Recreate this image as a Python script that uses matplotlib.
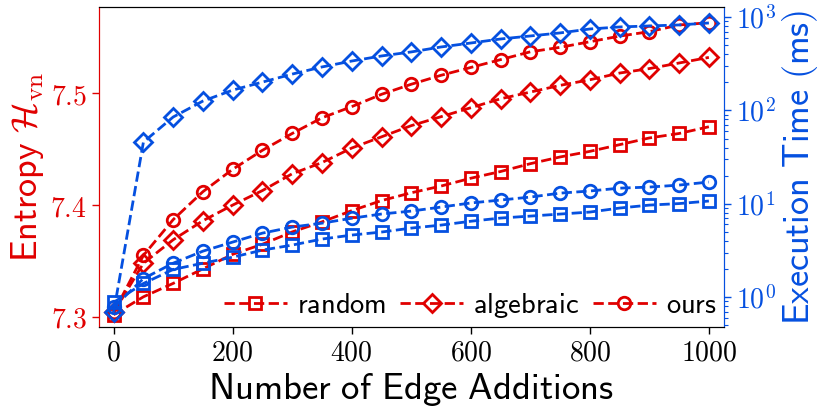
import numpy as np
import matplotlib
matplotlib.use('Agg')
import matplotlib.pyplot as plt
from matplotlib.ticker import FixedLocator, FuncFormatter, LogLocator, NullFormatter

plt.rcParams['mathtext.fontset'] = 'cm'

red = '#e00000'
blue = '#0550e0'

edges = np.arange(0, 1001, 50)

# entropy (left axis)
ent_random = [7.302, 7.318, 7.330, 7.343, 7.356, 7.365, 7.376, 7.385, 7.395, 7.404,
              7.411, 7.417, 7.424, 7.430, 7.437, 7.443, 7.448, 7.454, 7.460, 7.464, 7.470]
ent_algebraic = [7.304, 7.348, 7.369, 7.386, 7.400, 7.413, 7.428, 7.438, 7.451, 7.461,
                 7.471, 7.479, 7.487, 7.495, 7.501, 7.507, 7.512, 7.518, 7.522, 7.527, 7.532]
ent_ours = [7.304, 7.355, 7.387, 7.412, 7.432, 7.449, 7.464, 7.478, 7.488, 7.499,
            7.508, 7.516, 7.523, 7.530, 7.537, 7.541, 7.546, 7.551, 7.555, 7.561, 7.563]

# execution time in ms (right axis)
t_random = [0.88, 1.40, 1.98, 2.31, 2.68, 3.19, 3.61, 4.19, 4.62, 4.98,
            5.49, 5.91, 6.5, 7.03, 7.38, 7.76, 8.15, 9.0, 9.68, 10.05, 10.7]
t_algebraic = [0.69, 45.8, 85, 126, 165, 201, 245, 292, 338, 383,
               423, 478, 527, 582, 627, 676, 745, 783, 803, 823, 864]
t_ours = [0.78, 1.58, 2.31, 3.11, 3.89, 4.85, 5.63, 6.2, 7.0, 7.77,
          8.35, 9.22, 10.2, 10.96, 11.8, 13.0, 13.7, 14.7, 15.1, 15.85, 17.1]

fig = plt.figure(figsize=(8.3, 4.15), dpi=100)
ax1 = fig.add_subplot(111)
fig.subplots_adjust(left=0.119, right=0.872, bottom=0.212, top=0.983)
ax2 = ax1.twinx()

style = dict(linestyle='--', linewidth=2, markerfacecolor='none', markeredgewidth=2)

l1, = ax1.plot(edges, ent_random, marker='s', markersize=9, color=red, label=r'$\mathsf{random}$', **style)
l2, = ax1.plot(edges, ent_algebraic, marker='D', markersize=9, color=red, label=r'$\mathsf{algebraic}$', **style)
l3, = ax1.plot(edges, ent_ours, marker='o', markersize=9, color=red, label=r'$\mathsf{ours}$', **style)

ax2.plot(edges, t_random, marker='s', markersize=9, color=blue, **style)
ax2.plot(edges, t_algebraic, marker='D', markersize=9, color=blue, **style)
ax2.plot(edges, t_ours, marker='o', markersize=9, color=blue, **style)

ax1.set_xlim(-25, 1025)
ax1.set_ylim(7.291, 7.577)
ax2.set_yscale('log')
ax2.set_ylim(10 ** -0.32, 10 ** 3.107)

ax1.xaxis.set_major_locator(FixedLocator([0, 200, 400, 600, 800, 1000]))
ax1.xaxis.set_major_formatter(FuncFormatter(lambda v, p: f'${int(v)}$'))
ax1.yaxis.set_major_locator(FixedLocator([7.3, 7.4, 7.5]))
ax1.yaxis.set_major_formatter(FuncFormatter(lambda v, p: f'${v:.1f}$'))
ax2.yaxis.set_major_locator(FixedLocator([1, 10, 100, 1000]))
ax2.yaxis.set_major_formatter(FuncFormatter(lambda v, p: f'$10^{{{int(round(np.log10(v)))}}}$'))
ax2.yaxis.set_minor_locator(LogLocator(base=10, subs=np.arange(2, 10)))
ax2.yaxis.set_minor_formatter(NullFormatter())

ax1.tick_params(axis='x', labelsize=20, width=1, length=5)
ax1.tick_params(axis='y', labelsize=20, colors=red, width=1, length=5)
ax2.tick_params(axis='y', which='major', labelsize=20, colors=blue, width=1, length=5)
ax2.tick_params(axis='y', which='minor', colors=blue, width=0.8, length=3)

for ax in (ax1, ax2):
    ax.spines['left'].set_color(red)
    ax.spines['right'].set_color(blue)

ax1.set_xlabel(r'$\mathsf{Number\ of\ Edge\ Additions}$', fontsize=26.5, labelpad=3)
ax1.set_ylabel(r'$\mathsf{Entropy}\ \mathcal{H}_{\mathrm{vn}}$', fontsize=26, color=red, labelpad=3)
ax2.set_ylabel(r'$\mathsf{Execution\ Time\ (ms)}$', fontsize=26, color=blue, labelpad=3)

ax2.legend(handles=[l1, l2, l3], loc='lower right', ncol=3, frameon=False, fontsize=20.5,
           handlelength=2.2, handletextpad=0.35, columnspacing=0.5, borderaxespad=-0.15)

fig.savefig('out.png', dpi=100)
